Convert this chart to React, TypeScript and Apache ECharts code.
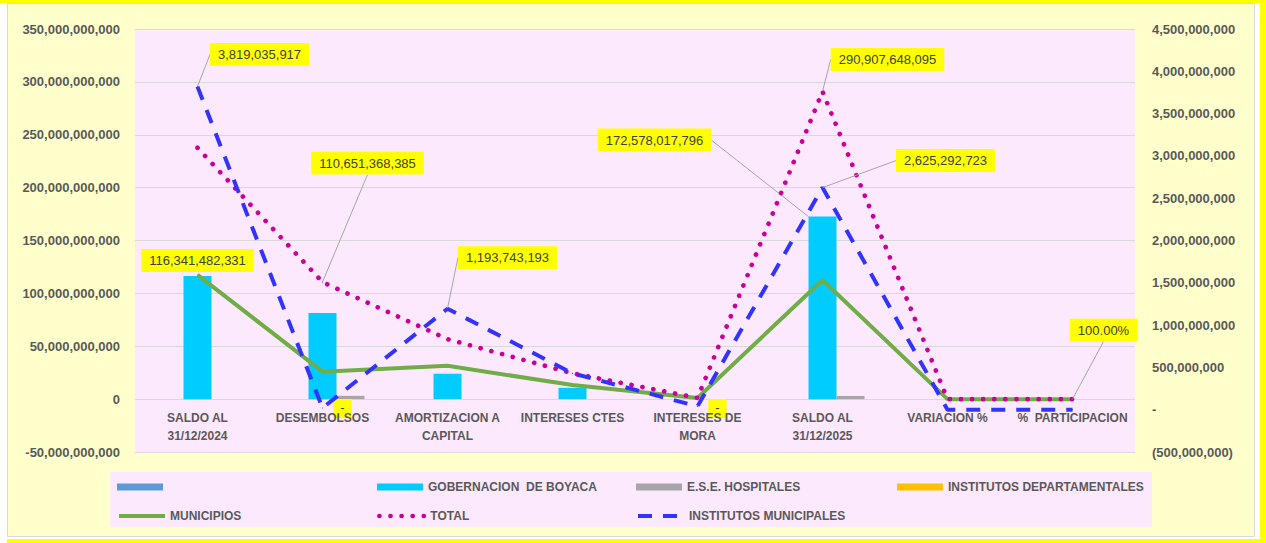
import React, { useEffect, useRef } from 'react';
import * as echarts from 'echarts';

const categories = [
  'SALDO AL\n31/12/2024',
  'DESEMBOLSOS',
  'AMORTIZACION A\nCAPITAL',
  'INTERESES CTES',
  'INTERESES DE\nMORA',
  'SALDO AL\n31/12/2025',
  'VARIACION %',
  '%  PARTICIPACION',
];
const percentCategories = ['VARIACION %', '%  PARTICIPACION'];

const blankSeries = [0, 0, 0, 0, 0, 0, 0, 0];
const gobernacion = [116341482331, 81500000000, 24000000000, 10700000000, 0, 172578017796, 0.48, 0.59];
const hospitales = [0, 3100000000, 0, 0, 0, 3000000000, 0, 0.01];
const institutosDepartamentales = [0, 0, 0, 0, 0, 0, 0, 0];
const municipios = [117500000000, 26000000000, 31500000000, 13300000000, 1100000000, 112700000000, -0.04, 0.39];
const total = [237660000000, 110651368385, 56700000000, 24430000000, 1150000000, 290907648095, 0.22, 1];
const institutosMunicipales = [3819035917, 20000000, 1193743193, 430000000, 40000000, 2625292723, -0.31, 0.009];

const leftMin = -50000000000;
const leftMax = 350000000000;
const leftInterval = 50000000000;
const rightMin = -500000000;
const rightMax = 4500000000;
const rightInterval = 500000000;

const gobLabelIdx = [0, 5];
const totalLabelIdx = [1, 5, 7];
const imLabelIdx = [0, 2, 5];
const deptLabelIdx = [1, 4];

const FONT = '"Liberation Sans", Arial, sans-serif';
const PINK_BG = '#FDE9FD';
const GRID_COLOR = '#D9D9D9';
const AXIS_TEXT = '#595959';

const shifts: Record<string, Record<number, [number, number]>> = {
  gob: { 0: [0, 0], 5: [-168, -61] },
  total: { 1: [45, -102], 5: [65, -15], 7: [31, -52] },
  im: { 0: [62, -15], 2: [60, -34], 5: [123, -10] },
};

const fmt = (v: number) => Math.round(v).toLocaleString('en-US');

const labelText = (p: any) => {
  const v = Number(p.value);
  if (percentCategories.includes(categories[p.dataIndex])) return (v * 100).toFixed(2) + '%';
  if (v === 0) return '-';
  return fmt(v);
};

const items = (values: number[], labelIdx: number[], noLine: number[] = []) =>
  values.map((v, i) => ({
    value: v,
    label: { show: labelIdx.includes(i) },
    labelLine: { show: labelIdx.includes(i) && !noLine.includes(i) },
  }));

const dataLabel = {
  show: false,
  fontSize: 13,
  fontFamily: FONT,
  color: '#404040',
  backgroundColor: '#FFFF00',
  padding: [5, 8],
  formatter: labelText,
};

const leader = { show: true, lineStyle: { color: '#A6A6A6', width: 1 } };

const layoutFor = (key: string) => (p: any) => {
  const s = shifts[key][p.dataIndex];
  return s ? { dx: s[0], dy: s[1] } : {};
};

const legendBase = {
  orient: 'horizontal',
  padding: 0,
  itemWidth: 46,
  itemHeight: 7,
  itemGap: 0,
  selectedMode: false,
  textStyle: { fontSize: 12, fontWeight: 'bold', color: AXIS_TEXT, fontFamily: FONT },
};

export default function App() {
  const ref = useRef<HTMLDivElement>(null);
  useEffect(() => {
    const chart = echarts.init(ref.current!, null, { renderer: 'svg' });
    const option: any = {
      animation: false,
      backgroundColor: '#FFFFFF',
      textStyle: { fontFamily: FONT },
      graphic: [
        { type: 'rect', z: -20, shape: { x: 0, y: 0, width: 1266, height: 3 }, style: { fill: '#FFFF00' } },
        { type: 'rect', z: -20, shape: { x: 1260, y: 0, width: 6, height: 543 }, style: { fill: '#FFFF00' } },
        { type: 'rect', z: -20, shape: { x: 7, y: 539, width: 1259, height: 4 }, style: { fill: '#FFFF00' } },
        { type: 'rect', z: -20, shape: { x: 7.5, y: 3.5, width: 1247, height: 533 }, style: { fill: '#FFFFCC', stroke: GRID_COLOR, lineWidth: 1 } },
        { type: 'rect', z: -10, shape: { x: 110, y: 472, width: 1042, height: 55 }, style: { fill: PINK_BG } },
      ],
      grid: {
        left: 135,
        right: 131,
        top: 29,
        bottom: 91,
        show: true,
        backgroundColor: PINK_BG,
        borderWidth: 0,
      },
      legend: [
        { ...legendBase, left: 117, top: 481, data: [{ name: ' ', icon: 'rect' }] },
        { ...legendBase, left: 377, top: 481, data: [{ name: 'GOBERNACION  DE BOYACA', icon: 'rect' }] },
        { ...legendBase, left: 636, top: 481, data: [{ name: 'E.S.E. HOSPITALES', icon: 'rect' }] },
        { ...legendBase, left: 897, top: 481, data: [{ name: 'INSTITUTOS DEPARTAMENTALES', icon: 'rect' }] },
        { ...legendBase, left: 117, top: 510, itemStyle: { opacity: 0 }, lineStyle: { width: 4 }, data: ['MUNICIPIOS'] },
        { ...legendBase, left: 377, top: 510, itemStyle: { opacity: 0 }, lineStyle: { width: 4.7 }, data: ['TOTAL'] },
        { ...legendBase, left: 636, top: 510, itemStyle: { opacity: 0 }, lineStyle: { width: 4 }, data: ['INSTITUTOS MUNICIPALES'] },
      ],
      xAxis: [
        {
          type: 'category',
          data: categories,
          z: 3,
          axisLine: { onZero: false, lineStyle: { color: GRID_COLOR, width: 1 } },
          axisTick: { show: false },
          axisLabel: {
            interval: 0,
            margin: -43,
            fontSize: 12,
            fontWeight: 'bold',
            lineHeight: 18,
            color: AXIS_TEXT,
            fontFamily: FONT,
          },
          splitLine: { show: false },
        },
        { type: 'category', data: categories, show: false, axisLine: { onZero: false } },
      ],
      yAxis: [
        {
          type: 'value',
          min: leftMin,
          max: leftMax,
          interval: leftInterval,
          axisLine: { show: false, onZero: false },
          axisTick: { show: false },
          splitLine: { show: true, lineStyle: { color: GRID_COLOR, width: 1 } },
          axisLabel: {
            margin: 15,
            fontSize: 13,
            fontWeight: 'bold',
            color: AXIS_TEXT,
            fontFamily: FONT,
            formatter: (v: number) => (v === 0 ? '0' : fmt(v)),
          },
        },
        {
          type: 'value',
          min: rightMin,
          max: rightMax,
          interval: rightInterval,
          position: 'right',
          axisLine: { show: false, onZero: false },
          axisTick: { show: false },
          splitLine: { show: false },
          axisLabel: {
            margin: 17,
            align: 'left',
            fontSize: 13,
            fontWeight: 'bold',
            color: AXIS_TEXT,
            fontFamily: FONT,
            formatter: (v: number) => (v === 0 ? '-' : v < 0 ? '(' + fmt(-v) + ')' : fmt(v)),
          },
        },
      ],
      series: [
        {
          name: ' ',
          type: 'bar',
          barWidth: 28,
          barGap: '0%',
          itemStyle: { color: '#5B9BD5' },
          data: blankSeries,
        },
        {
          name: 'GOBERNACION  DE BOYACA',
          type: 'bar',
          barWidth: 28,
          barGap: '0%',
          itemStyle: { color: '#00CCFF' },
          data: items(gobernacion, gobLabelIdx, [0]),
          label: { ...dataLabel, position: 'top', distance: 4 },
          labelLine: leader,
          labelLayout: layoutFor('gob'),
        },
        {
          name: 'E.S.E. HOSPITALES',
          type: 'bar',
          barWidth: 28,
          barGap: '0%',
          itemStyle: { color: '#A6A6A6' },
          data: hospitales,
        },
        {
          name: 'INSTITUTOS DEPARTAMENTALES',
          type: 'bar',
          xAxisIndex: 1,
          barWidth: 28,
          itemStyle: { color: '#FFC000' },
          data: items(institutosDepartamentales, deptLabelIdx, deptLabelIdx),
          label: { ...dataLabel, position: 'bottom', distance: 0, offset: [20, 0], padding: [2, 7, 4, 7] },
        },
        {
          name: 'MUNICIPIOS',
          type: 'line',
          data: municipios,
          symbol: 'circle',
          symbolSize: 1,
          showAllSymbol: true,
          itemStyle: { color: '#70AD47' },
          lineStyle: { color: '#70AD47', width: 4 },
        },
        {
          name: 'TOTAL',
          type: 'line',
          data: items(total, totalLabelIdx),
          symbol: 'circle',
          symbolSize: 1,
          showAllSymbol: true,
          itemStyle: { color: '#CC0099' },
          lineStyle: { color: '#CC0099', width: 4.7, type: [0.1, 11], cap: 'round' },
          label: { ...dataLabel, position: 'top', distance: 5 },
          labelLine: leader,
          labelLayout: layoutFor('total'),
        },
        {
          name: 'INSTITUTOS MUNICIPALES',
          type: 'line',
          yAxisIndex: 1,
          data: items(institutosMunicipales, imLabelIdx),
          symbol: 'circle',
          symbolSize: 1,
          showAllSymbol: true,
          itemStyle: { color: '#3333FF' },
          lineStyle: { color: '#3333FF', width: 4, type: [14, 11] },
          label: { ...dataLabel, position: 'top', distance: 5 },
          labelLine: leader,
          labelLayout: layoutFor('im'),
        },
      ],
    };
    chart.setOption(option);
    return () => chart.dispose();
  }, []);
  return (
    <div
      ref={ref}
      style={{ position: 'fixed', left: 0, top: 0, width: 1266, height: 543, background: '#FFFFFF' }}
    />
  );
}
